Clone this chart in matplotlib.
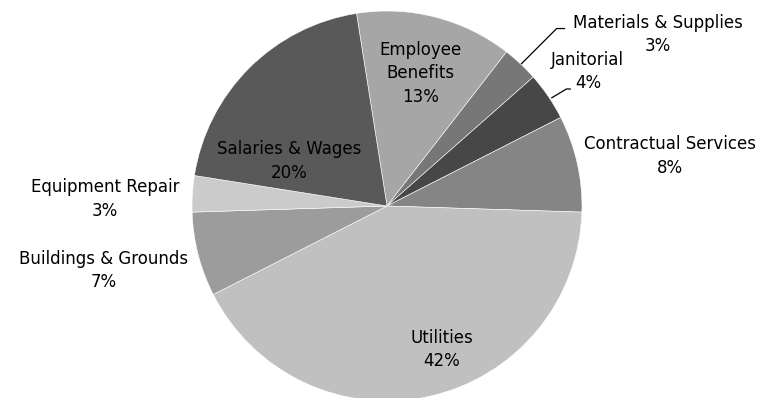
import matplotlib.pyplot as plt
import numpy as np

# expense categories, in clockwise order starting near 12 o'clock
categories = ['Employee\nBenefits', 'Materials & Supplies', 'Janitorial',
              'Contractual Services', 'Utilities', 'Buildings & Grounds',
              'Equipment Repair', 'Salaries & Wages']
shares = [13, 3, 4, 8, 42, 7, 3, 20]
colors = ['#a6a6a6', '#777777', '#474747', '#858585',
          '#c0c0c0', '#9c9c9c', '#cbcbcb', '#595959']

# label centres in pie units (radius = 1)
label_pos = [(0.17, 0.68), (1.39, 0.88), (1.03, 0.69), (1.45, 0.255),
             (0.28, -0.735), (-1.455, -0.33), (-1.445, 0.035), (-0.50, 0.23)]

fig = plt.figure(figsize=(7.62, 3.98), dpi=100)
ax = fig.add_axes([0, 0, 1, 1])

ax.pie(shares, colors=colors, startangle=99, counterclock=False,
       wedgeprops=dict(edgecolor='white', linewidth=0.4))

for name, val, (x, y) in zip(categories, shares, label_pos):
    ax.text(x, y, f'{name}\n{val}%', ha='center', va='center',
            fontsize=12, family='DejaVu Sans', color='black',
            linespacing=1.4)

# leader lines for the two small slices
ax.plot([0.69, 0.87, 0.91], [0.73, 0.91, 0.91], color='black', lw=0.9)
ax.plot([0.845, 0.92, 0.94], [0.555, 0.60, 0.60], color='black', lw=0.9)

# 195 px per unit, pie centre at (387, 206) px
ax.set_xlim(-387 / 195, (762 - 387) / 195)
ax.set_ylim((206 - 398) / 195, 206 / 195)
ax.set_aspect('auto')
ax.axis('off')

plt.savefig('out.png', dpi=100)
